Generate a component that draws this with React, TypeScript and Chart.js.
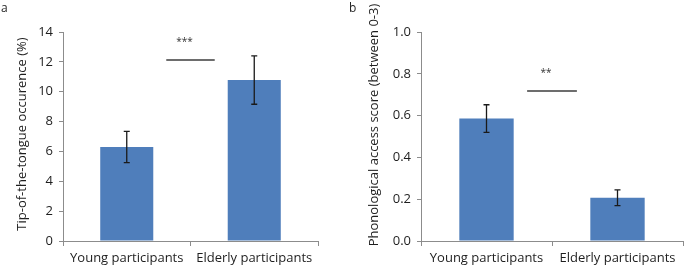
import React, { useEffect, useRef } from "react";
import { Chart, registerables } from "chart.js";

Chart.register(...registerables);

const categories = ["Young participants", "Elderly participants"];

const tipValues = [6.3, 10.78];
const tipErrors = [1.05, 1.62];
const tipTickMin = 0;
const tipTickMax = 14;
const tipTickStep = 2;
const tipSigLabel = "***";
const tipSigLevel = 12.12;
const tipTitle = "Tip-of-the-tongue occurence (%)";

const phonValues = [0.586, 0.207];
const phonErrors = [0.066, 0.038];
const phonTickMin = 0;
const phonTickMax = 1.0;
const phonTickStep = 0.2;
const phonSigLabel = "**";
const phonSigLevel = 0.718;
const phonTitle = "Phonological access score (between 0-3)";

const FONT = "'Open Sans', 'Noto Sans', sans-serif";
const BAR_COLOR = "#4f7ebb";
const AXIS_COLOR = "#8c8c8c";
const TEXT_COLOR = "#1e1e1e";

const errorBarPlugin = {
  id: "errorBars",
  afterDatasetsDraw(chart: any, _args: any, opts: any) {
    const errors: number[] = opts.errors || [];
    const meta = chart.getDatasetMeta(0);
    const ys = chart.scales.y;
    const values = chart.data.datasets[0].data as number[];
    const ctx = chart.ctx;
    ctx.save();
    ctx.strokeStyle = "#1a1a1a";
    ctx.lineWidth = 1.3;
    meta.data.forEach((bar: any, i: number) => {
      const v = values[i];
      const e = errors[i] || 0;
      const top = ys.getPixelForValue(v + e);
      const bot = ys.getPixelForValue(v - e);
      const x = bar.x;
      ctx.beginPath();
      ctx.moveTo(x, top);
      ctx.lineTo(x, bot);
      ctx.moveTo(x - 3, top);
      ctx.lineTo(x + 3, top);
      ctx.moveTo(x - 3, bot);
      ctx.lineTo(x + 3, bot);
      ctx.stroke();
    });
    ctx.restore();
  },
};

const sigPlugin = {
  id: "significance",
  afterDatasetsDraw(chart: any, _args: any, opts: any) {
    const xs = chart.scales.x;
    const ys = chart.scales.y;
    const ctx = chart.ctx;
    const y = ys.getPixelForValue(opts.level);
    const x0 = xs.getPixelForValue(0.31);
    const x1 = xs.getPixelForValue(0.69);
    ctx.save();
    ctx.strokeStyle = "#3c3c3c";
    ctx.lineWidth = 1.4;
    ctx.beginPath();
    ctx.moveTo(x0, y);
    ctx.lineTo(x1, y);
    ctx.stroke();
    ctx.fillStyle = "#333";
    ctx.font = `10px ${FONT}`;
    ctx.textAlign = "center";
    ctx.textBaseline = "middle";
    ctx.fillText(opts.label, (x0 + x1) / 2 - 6, y - 18);
    ctx.restore();
  },
};

const yTitlePlugin = {
  id: "yTitle",
  afterDraw(chart: any, _args: any, opts: any) {
    const ctx = chart.ctx;
    ctx.save();
    ctx.translate(opts.x, opts.y);
    ctx.rotate(-Math.PI / 2);
    ctx.fillStyle = TEXT_COLOR;
    ctx.font = `13px ${FONT}`;
    ctx.textAlign = "center";
    ctx.textBaseline = "middle";
    ctx.fillText(opts.text, 0, 0);
    ctx.restore();
  },
};

type PanelProps = {
  width: number;
  height: number;
  values: number[];
  errors: number[];
  min: number;
  max: number;
  step: number;
  decimals: number;
  title: string;
  sigLabel: string;
  sigLevel: number;
  plotLeft: number;
  rightPad: number;
  topPad: number;
  titleX: number;
  titleY: number;
  barPct: number;
};

function Panel(p: PanelProps) {
  const ref = useRef<HTMLCanvasElement | null>(null);
  useEffect(() => {
    if (!ref.current) return;
    const chart = new Chart(ref.current, {
      type: "bar",
      data: {
        labels: categories,
        datasets: [
          {
            data: p.values,
            backgroundColor: BAR_COLOR,
            borderWidth: 0,
            categoryPercentage: 1,
            barPercentage: p.barPct,
          },
        ],
      },
      options: {
        responsive: false,
        animation: false,
        layout: { padding: { left: 0, right: p.rightPad, top: p.topPad, bottom: 0 } },
        plugins: {
          legend: { display: false },
          tooltip: { enabled: false },
          errorBars: { errors: p.errors },
          significance: { label: p.sigLabel, level: p.sigLevel },
          yTitle: { text: p.title, x: p.titleX, y: p.titleY },
        } as any,
        scales: {
          x: {
            grid: {
              offset: true,
              drawOnChartArea: false,
              drawTicks: true,
              tickLength: 5,
              color: AXIS_COLOR,
            },
            border: { color: AXIS_COLOR, width: 1 },
            ticks: {
              color: TEXT_COLOR,
              font: { family: FONT, size: 13 },
              padding: 4,
              maxRotation: 0,
            },
            afterFit: (s: any) => {
              s.height = 28;
            },
          },
          y: {
            min: p.min,
            max: p.max,
            grid: {
              drawOnChartArea: false,
              drawTicks: true,
              tickLength: 4,
              color: AXIS_COLOR,
            },
            border: { color: AXIS_COLOR, width: 1 },
            ticks: {
              stepSize: p.step,
              color: TEXT_COLOR,
              font: { family: FONT, size: 13 },
              padding: 6,
              callback: (v: any) => Number(v).toFixed(p.decimals),
            },
            title: { display: false },
            afterFit: (s: any) => {
              s.width = p.plotLeft;
            },
          },
        },
      },
      plugins: [errorBarPlugin, sigPlugin, yTitlePlugin],
    });
    return () => chart.destroy();
  }, []);
  return (
    <canvas
      ref={ref}
      width={p.width}
      height={p.height}
      style={{ width: p.width, height: p.height, display: "block" }}
    />
  );
}

export default function App() {
  return (
    <div
      style={{
        position: "fixed",
        left: 0,
        top: 0,
        width: 685,
        height: 269,
        background: "#fff",
        fontFamily: FONT,
      }}
    >
      <div style={{ position: "absolute", left: 0, top: 0 }}>
        <Panel
          width={340}
          height={269}
          values={tipValues}
          errors={tipErrors}
          min={tipTickMin}
          max={tipTickMax}
          step={tipTickStep}
          decimals={0}
          title={tipTitle}
          sigLabel={tipSigLabel}
          sigLevel={tipSigLevel}
          plotLeft={63}
          rightPad={22}
          topPad={32}
          titleX={22.5}
          titleY={134}
          barPct={0.416}
        />
      </div>
      <div style={{ position: "absolute", left: 340, top: 0 }}>
        <Panel
          width={345}
          height={269}
          values={phonValues}
          errors={phonErrors}
          min={phonTickMin}
          max={phonTickMax}
          step={phonTickStep}
          decimals={1}
          title={phonTitle}
          sigLabel={phonSigLabel}
          sigLevel={phonSigLevel}
          plotLeft={81}
          rightPad={2}
          topPad={32}
          titleX={34}
          titleY={125}
          barPct={0.415}
        />
      </div>
      <div style={{ position: "absolute", left: 1, top: 2, fontSize: 12, lineHeight: "12px", color: TEXT_COLOR }}>a</div>
      <div style={{ position: "absolute", left: 349, top: 2, fontSize: 12, lineHeight: "12px", color: TEXT_COLOR }}>b</div>
    </div>
  );
}
